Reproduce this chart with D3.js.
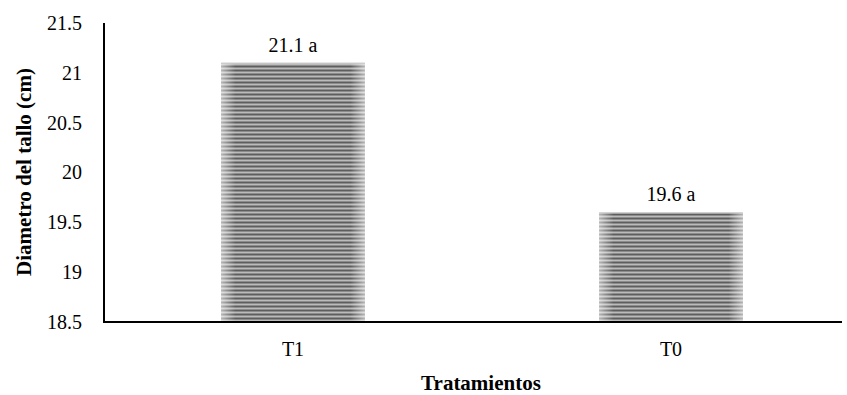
<!DOCTYPE html>
<html>
<head>
<meta charset="utf-8">
<script src="https://cdn.jsdelivr.net/npm/d3@7/dist/d3.min.js"></script>
<style>
  html, body { margin: 0; padding: 0; background: #fff; }
  svg { display: block; }
  svg text { font-family: "Liberation Serif", "DejaVu Serif", "Noto Serif", serif; fill: #000; }
</style>
</head>
<body>
<svg id="chart" width="847" height="395"></svg>
<script>
// Stem diameter by treatment
const categories = ["T1", "T0"];
const values = [21.1, 19.6];
const groupLetters = ["a", "a"];
const yTicks = [18.5, 19, 19.5, 20, 20.5, 21, 21.5];

const svg = d3.select("#chart");
const plotLeft = 104, plotTop = 23, plotBottom = 322, axisEnd = 842;

const x = d3.scaleBand()
  .domain(categories)
  .range([plotLeft, 860])
  .paddingInner(0.62)
  .paddingOuter(0.31);

const y = d3.scaleLinear().domain([18.5, 21.5]).range([plotBottom, plotTop]);

// Striped fill with lighter left/right edges
const defs = svg.append("defs");
const pat = defs.append("pattern")
  .attr("id", "stripes")
  .attr("patternUnits", "userSpaceOnUse")
  .attr("width", 8).attr("height", 4);
pat.append("rect").attr("width", 8).attr("height", 4).attr("fill", "#bbbbbb");
pat.append("rect").attr("y", 1.5).attr("width", 8).attr("height", 2).attr("fill", "#5e5e5e");

const edge = defs.append("linearGradient").attr("id", "edgeShade")
  .attr("x1", 0).attr("x2", 1).attr("y1", 0).attr("y2", 0);
[[0, 0.55], [0.1, 0], [0.9, 0], [1, 0.55]].forEach(([o, a]) =>
  edge.append("stop").attr("offset", o).attr("stop-color", "#fff").attr("stop-opacity", a));

const bars = svg.append("g");
categories.forEach((c, i) => {
  const bx = x(c), bw = x.bandwidth(), by = y(values[i]), bh = plotBottom - y(values[i]);
  bars.append("rect").attr("x", bx).attr("y", by).attr("width", bw).attr("height", bh)
    .attr("fill", "url(#stripes)");
  bars.append("rect").attr("x", bx).attr("y", by).attr("width", bw).attr("height", bh)
    .attr("fill", "url(#edgeShade)");
  bars.append("line").attr("x1", bx).attr("x2", bx + bw).attr("y1", by + 0.5).attr("y2", by + 0.5)
    .attr("stroke", "#cfcfcf").attr("stroke-width", 1);
  // value label
  svg.append("text")
    .attr("x", bx + bw / 2).attr("y", by - 11)
    .attr("text-anchor", "middle")
    .attr("font-size", 20)
    .text(d3.format(".1f")(values[i]) + " " + groupLetters[i]);
});

// Y axis
const yAxis = svg.append("g").attr("transform", `translate(${plotLeft},0)`)
  .call(d3.axisLeft(y).tickValues(yTicks).tickSize(0).tickPadding(22).tickFormat(d3.format("")));
yAxis.attr("font-family", null);
yAxis.select(".domain").remove();
yAxis.selectAll("text").attr("font-size", 20).attr("fill", "#000");
svg.append("line").attr("x1", plotLeft).attr("x2", plotLeft).attr("y1", plotTop).attr("y2", plotBottom)
  .attr("stroke", "#000").attr("stroke-width", 2);

// X axis
const xAxis = svg.append("g").attr("transform", `translate(0,${plotBottom})`)
  .call(d3.axisBottom(x).tickSize(0).tickPadding(20));
xAxis.attr("font-family", null);
xAxis.select(".domain").remove();
xAxis.selectAll("text").attr("font-size", 20).attr("fill", "#000");
svg.append("line").attr("x1", plotLeft - 1).attr("x2", axisEnd).attr("y1", plotBottom).attr("y2", plotBottom)
  .attr("stroke", "#000").attr("stroke-width", 2.2);

// Axis titles
svg.append("text")
  .attr("x", 481).attr("y", 390)
  .attr("text-anchor", "middle")
  .attr("font-size", 21).attr("font-weight", "bold")
  .text("Tratamientos");

svg.append("text")
  .attr("transform", "translate(31,172) rotate(-90)")
  .attr("text-anchor", "middle")
  .attr("font-size", 21).attr("font-weight", "bold")
  .text("Diametro del tallo (cm)");
</script>
</body>
</html>
